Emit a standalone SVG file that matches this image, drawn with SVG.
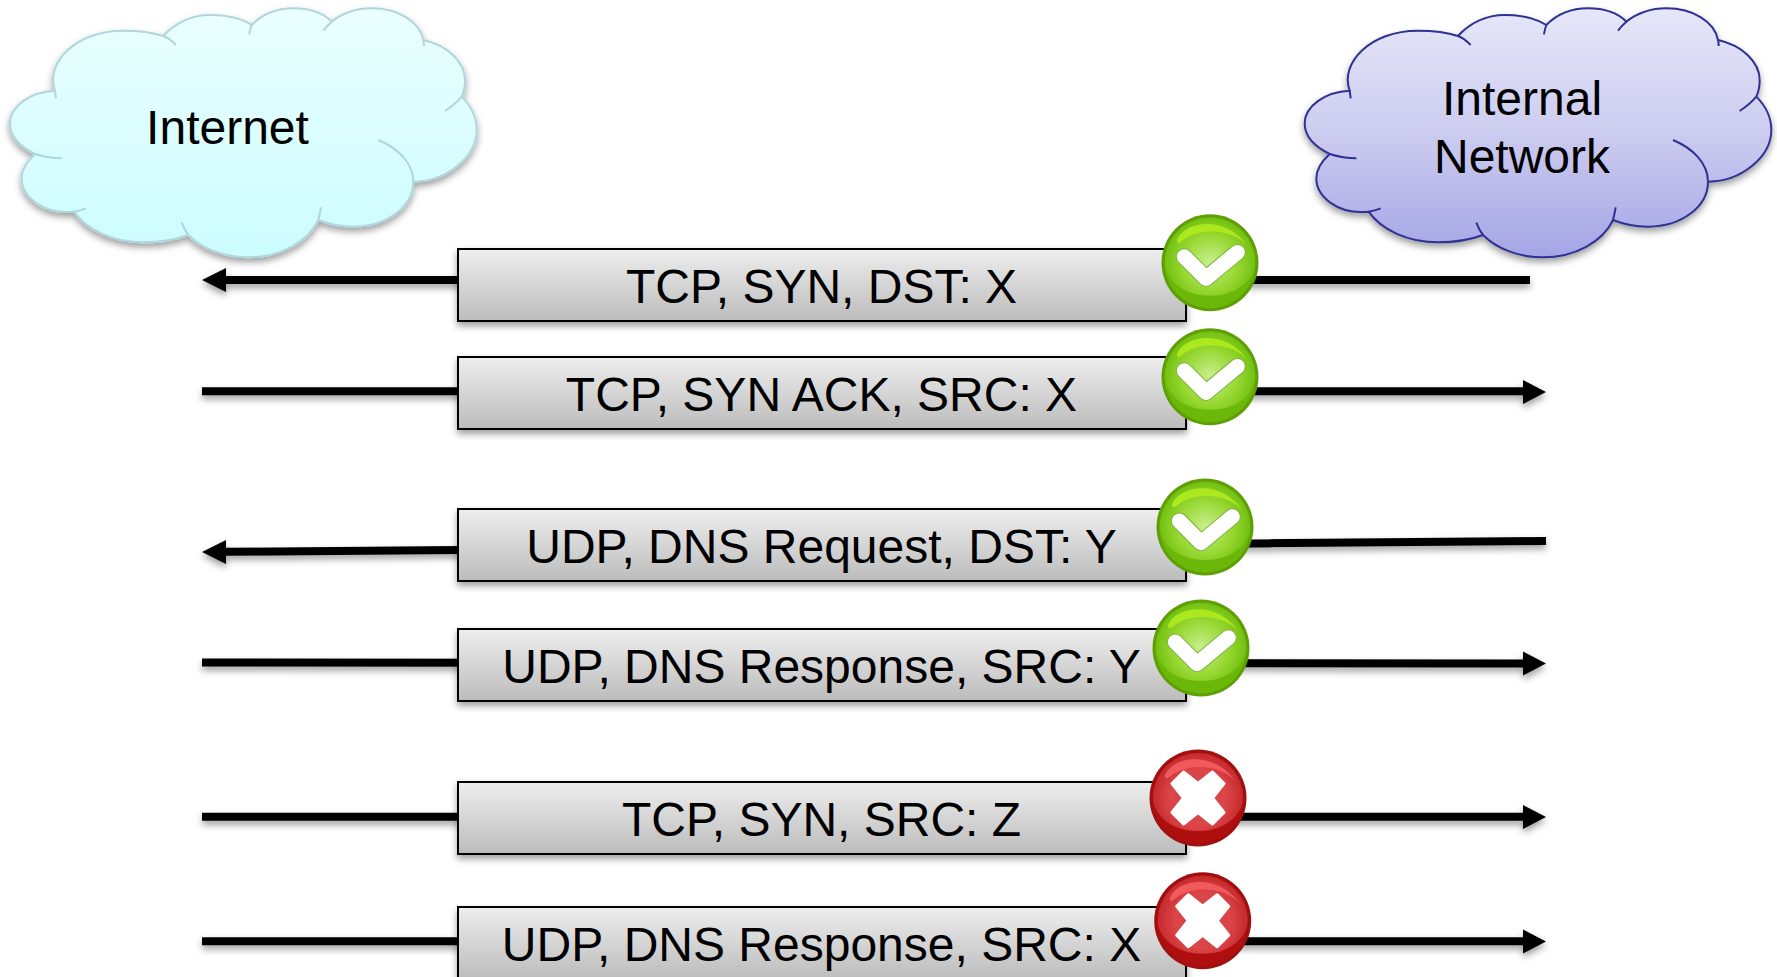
<svg xmlns="http://www.w3.org/2000/svg" width="1777" height="977" viewBox="0 0 1777 977">
<style>
text{font-family:"Liberation Sans",Arial,sans-serif;font-size:48px;fill:#000;text-anchor:middle}
.box{fill:url(#boxG);stroke:#000;stroke-width:2;filter:url(#sh)}
.ln{stroke:#000;stroke-width:8;fill:none}
.head{fill:#000}
.c1{fill:url(#c1G);stroke:#aed6dc;stroke-width:6}
.c2{fill:url(#c2G);stroke:#2e3192;stroke-width:6}
.in{fill:none;stroke-width:6}
</style>
<defs>
<linearGradient id="boxG" x1="0" y1="0" x2="0" y2="1"><stop offset="0" stop-color="#eeeeee"/><stop offset="1" stop-color="#bcbcbc"/></linearGradient>
<linearGradient id="c1G" x1="0" y1="0" x2="0" y2="1"><stop offset="0" stop-color="#ebffff"/><stop offset="1" stop-color="#ccfcff"/></linearGradient>
<linearGradient id="c2G" x1="0" y1="0" x2="0" y2="1"><stop offset="0" stop-color="#e6e7f9"/><stop offset="0.5" stop-color="#ccccf0"/><stop offset="1" stop-color="#a5a5e6"/></linearGradient>
<radialGradient id="gG" cx="0" cy="0" r="46" gradientUnits="userSpaceOnUse"><stop offset="0" stop-color="#c9ef8e"/><stop offset="0.6" stop-color="#97d832"/><stop offset="1" stop-color="#72bf10"/></radialGradient>
<radialGradient id="rG" cx="0" cy="0" r="46" gradientUnits="userSpaceOnUse"><stop offset="0" stop-color="#c94044"/><stop offset="0.6" stop-color="#dc4649"/><stop offset="1" stop-color="#c4282a"/></radialGradient>
<filter id="sh" filterUnits="userSpaceOnUse" x="0" y="0" width="1777" height="977"><feDropShadow dx="0" dy="4" stdDeviation="3.5" flood-color="#000" flood-opacity="0.38"/></filter>
<path id="cloudShape" d="M165,272 C135,190 225,92 370,92 C415,92 460,98 490,108 C525,70 575,45 630,45 C680,45 725,55 755,75 C790,40 835,25 880,25 C930,25 970,40 995,65 C1030,38 1075,25 1115,25 C1195,25 1260,65 1270,120 C1340,135 1395,185 1395,240 C1395,258 1392,275 1385,290 C1415,320 1430,355 1430,390 C1430,470 1340,545 1240,545 C1240,620 1160,680 1060,680 C1020,680 985,672 955,660 C925,725 840,772 745,772 C670,772 605,745 565,705 C525,720 480,727 430,727 C340,727 260,690 222,635 C130,645 65,590 65,535 C65,510 80,485 105,462 C60,440 30,410 30,370 C30,320 90,275 165,272 Z"/>
<path id="cloudIn" d="M165,272 L168,295 M490,108 C505,113 518,125 528,135 M755,75 Q750,88 748,103 M995,65 Q982,76 970,92 M1270,120 Q1272,130 1272,138 M1385,290 C1370,308 1352,322 1335,333 M1135,420 C1195,445 1240,490 1240,545 M955,660 Q960,640 963,622 M565,705 Q553,690 545,668 M222,635 Q240,632 258,625 M105,462 C130,470 158,475 185,475"/>
<g id="okIcon">
<circle r="48.500" fill="#5f9f06"/>
<circle r="45.500" fill="#6cb808"/>
<path d="M-45,0 A45,45 0 0 1 45,0 C45,14 30,33 0,33 C-30,33 -45,14 -45,0Z" fill="url(#gG)"/>
<path d="M-32,-25 C-20,-45 20,-44 37,-17 C25,-32 -10,-38 -30,-20 C-33,-19 -34,-22 -32,-25Z" fill="#abe81e"/>
<path d="M-25.700,-6 L-4,15.700 L27.300,-10.300" fill="none" stroke="#7fb53a" stroke-width="17" stroke-linecap="round" stroke-linejoin="round"/>
<path d="M-25.700,-6 L-4,15.700 L27.300,-10.300" fill="none" stroke="#fff" stroke-width="15" stroke-linecap="round" stroke-linejoin="round"/>
</g>
<g id="noIcon">
<circle r="48.500" fill="#a01010"/>
<circle r="45.500" fill="#b00f0f"/>
<path d="M-45,0 A45,45 0 0 1 45,0 C45,14 30,33 0,33 C-30,33 -45,14 -45,0Z" fill="url(#rG)"/>
<path d="M-32,-25 C-20,-45 20,-44 37,-17 C25,-32 -10,-38 -30,-20 C-33,-19 -34,-22 -32,-25Z" fill="#f05a5e"/>
<path d="M0,-14.500 L14.500,-26 L26,-14.500 L14.500,0 L26,14.500 L14.500,26 L0,14.500 L-14.500,26 L-26,14.500 L-14.500,0 L-26,-14.500 L-14.500,-26Z" fill="#fff" stroke="#fff" stroke-width="3" stroke-linejoin="round"/>
</g>
</defs>
<rect width="1777" height="977" fill="#fff"/>
<g id="cloud-internet">
<g filter="url(#sh)"><g transform="scale(0.33333)"><use href="#cloudShape" class="c1"/></g></g>
<g transform="scale(0.33333)"><use href="#cloudIn" class="in" stroke="#aed6dc"/></g>
<text x="227.500" y="144">Internet</text>
</g>
<g id="cloud-internal">
<g filter="url(#sh)"><g transform="translate(1294.670,0) scale(0.33333)"><use href="#cloudShape" class="c2"/></g></g>
<g transform="translate(1294.670,0) scale(0.33333)"><use href="#cloudIn" class="in" stroke="#2e3192"/></g>
<text x="1522" y="115">Internal</text>
<text x="1522" y="172.500">Network</text>
</g>
<g id="connectors" filter="url(#sh)">
<path class="ln" d="M226,280 H1530"/><path class="head" d="M202,280 L226,268 V292Z"/>
<path class="ln" d="M202,391.300 H1523"/><path class="head" d="M1546,392 L1523,380 V404Z"/>
<path class="ln" d="M226,551.800 L1546,541"/><path class="head" d="M202,552 L226,540 V564Z"/>
<path class="ln" d="M202,662.500 L1523,663.500"/><path class="head" d="M1546,663.500 L1523,651.500 V675.500Z"/>
<path class="ln" d="M202,816.700 H1523"/><path class="head" d="M1546,817 L1523,805 V829Z"/>
<path class="ln" d="M202,941.300 H1523"/><path class="head" d="M1546,941.500 L1523,929.500 V953.500Z"/>
</g>
<g id="box1"><rect class="box" x="458" y="249" width="728" height="72"/><text x="821.500" y="303">TCP, SYN, DST: X</text></g>
<g id="box2"><rect class="box" x="458" y="357" width="728" height="72"/><text x="821.500" y="411">TCP, SYN ACK, SRC: X</text></g>
<g id="box3"><rect class="box" x="458" y="509" width="728" height="72"/><text x="821.500" y="563">UDP, DNS Request, DST: Y</text></g>
<g id="box4"><rect class="box" x="458" y="629" width="728" height="72"/><text x="821.500" y="683">UDP, DNS Response, SRC: Y</text></g>
<g id="box5"><rect class="box" x="458" y="782" width="728" height="72"/><text x="821.500" y="836">TCP, SYN, SRC: Z</text></g>
<g id="box6"><rect class="box" x="458" y="907" width="728" height="72"/><text x="821.500" y="961">UDP, DNS Response, SRC: X</text></g>
<g id="status1"><use href="#okIcon" x="1210" y="262.700"/></g>
<g id="status2"><use href="#okIcon" x="1210" y="376.700"/></g>
<g id="status3"><use href="#okIcon" x="1205" y="527"/></g>
<g id="status4"><use href="#okIcon" x="1201" y="648"/></g>
<g id="status5"><use href="#noIcon" x="1198" y="798"/></g>
<g id="status6"><use href="#noIcon" x="1202.700" y="920.700"/></g>
</svg>
